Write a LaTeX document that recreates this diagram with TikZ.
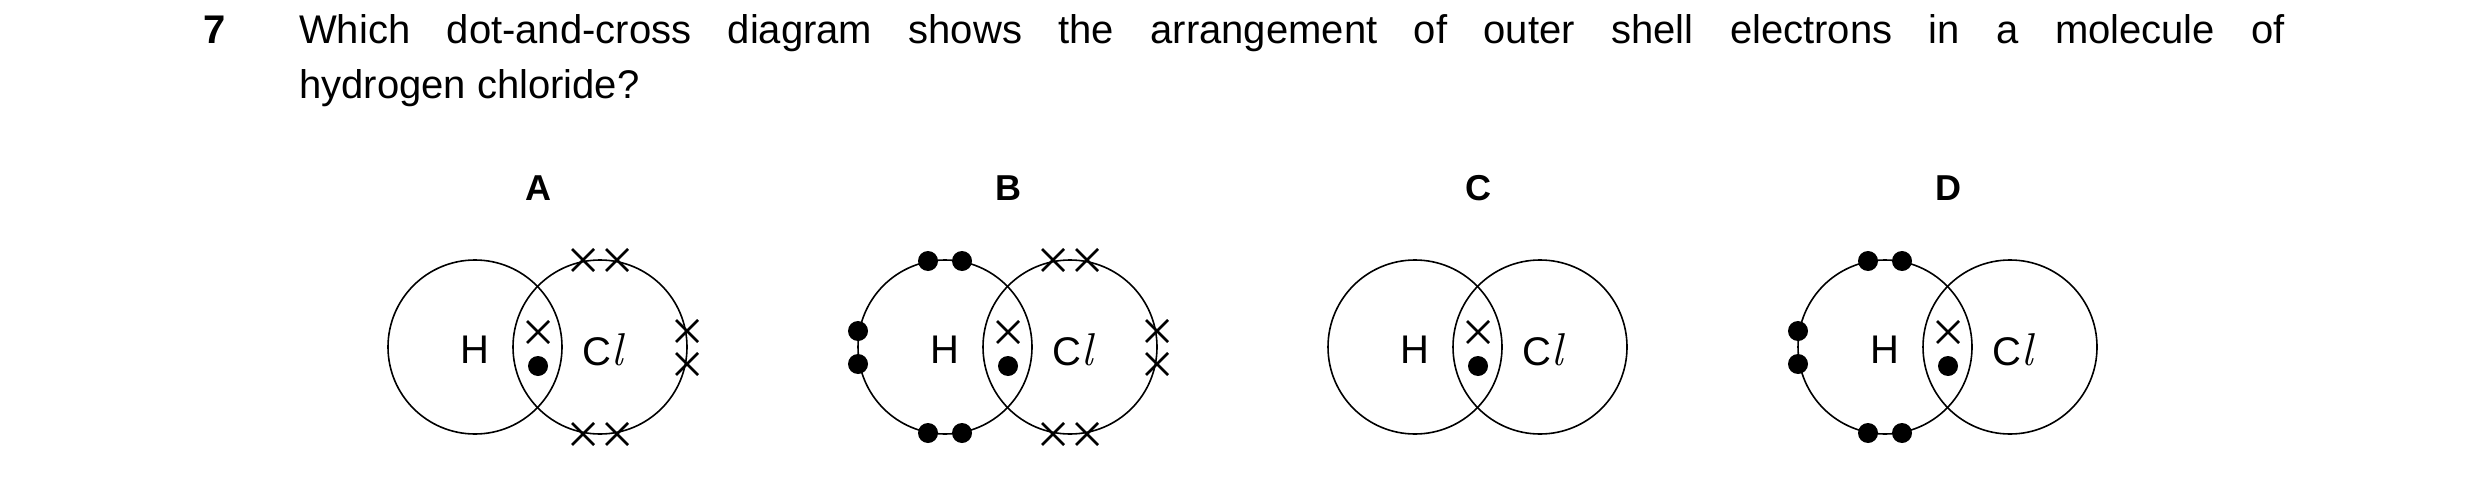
\documentclass[tikz,border=0pt]{standalone}
\usepackage{fontspec}
\setmainfont{Liberation Sans}
\newfontfamily\lmr{Latin Modern Roman}
\begin{document}
\begin{tikzpicture}[x=1pt,y=-1pt,
 shell/.style={draw,line width=1.6pt,circle,minimum size=174pt,inner sep=0},
 lab/.style={font=\fontsize{40}{40}\selectfont},
 ttl/.style={font=\bfseries\fontsize{36}{36}\selectfont},
 xx/.pic={\draw[line width=2.6pt] (-11,-11)--(11,11) (-11,11)--(11,-11);},
 dd/.pic={\fill (0,0) circle (10);}]
\useasboundingbox (0,0) rectangle (2480,487);
\node[anchor=base west,font=\bfseries\fontsize{40}{40}\selectfont] (q) at (200,44) {7};
\node[anchor=base west,inner sep=0,font=\fontsize{40}{40}\selectfont] (l1) at (299,44) {\makebox[1986pt][s]{Which dot-and-cross diagram shows the arrangement of outer shell electrons in a molecule of}};
\node[anchor=base west,inner sep=0,font=\fontsize{40}{40}\selectfont] (l2) at (299,98) {hydrogen chloride?};
\foreach \n/\cx/\L in {a/475/A,b/945/B,c/1415/C,d/1885/D}{
 \node[shell] (\n H) at (\cx,347) {};
 \node[shell] (\n C) at (\cx+125,347) {};
 \node[ttl] (\n t) at (\cx+63,188) {\L};
 \node[lab] (\n h) at (\cx,350) {H};
 \node[lab] (\n l) at (\cx+128,350) {C{\lmr\itshape\fontsize{46}{46}\selectfont l}};
 \pic at (\cx+63,332) {xx};
 \pic at (\cx+63,366) {dd};
}
\foreach \cx in {475,945}{
 \foreach \p in {(\cx+108,260),(\cx+142,260),(\cx+108,434),(\cx+142,434),(\cx+212,331),(\cx+212,364)} \pic at \p {xx};
}
\foreach \cx in {945,1885}{
 \foreach \p in {(\cx-17,261),(\cx+17,261),(\cx-17,433),(\cx+17,433),(\cx-87,331),(\cx-87,364)} \pic at \p {dd};
}
\end{tikzpicture}
\end{document}
